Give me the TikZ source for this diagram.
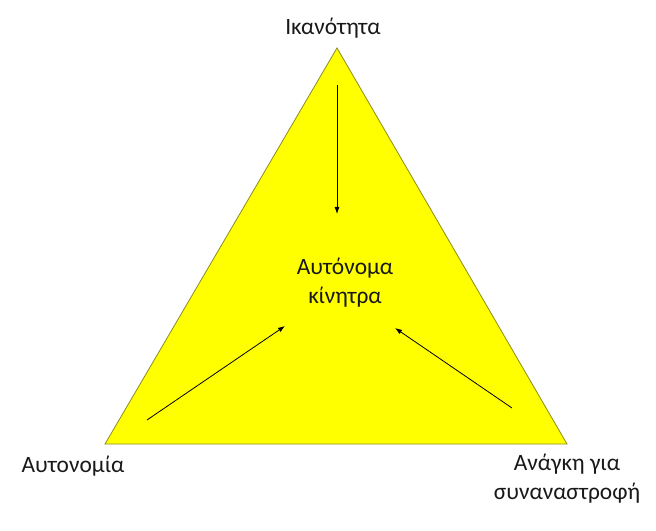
\documentclass[tikz,border=0pt]{standalone}
\usepackage{fontspec}
\setmainfont{Carlito}
\usetikzlibrary{arrows.meta}
\definecolor{triyellow}{RGB}{255,255,0}
\definecolor{triedge}{RGB}{140,140,30}
\begin{document}
\begin{tikzpicture}[x=1bp,y=-1bp,
  lbl/.style={font=\fontsize{23.5}{29}\selectfont, align=center, inner sep=0pt, text=black!90},
  arr/.style={-{Latex[length=7bp,width=5bp]}, line width=0.8bp}]
\useasboundingbox (0,0) rectangle (656,531);
\fill[white] (0,0) rectangle (656,531);
\coordinate (top) at (337,48);
\coordinate (bl) at (105,444);
\coordinate (br) at (567,444);
\filldraw[fill=triyellow, draw=triedge, line width=0.8bp] (top) -- (bl) -- (br) -- cycle;
\node[lbl] (ik) at (333,28) {Ικανότητα};
\node[lbl] (auto) at (73,466) {Αυτονομία};
\node[lbl] (anag) at (567,479) {Ανάγκη για\\συναναστροφή};
\node[lbl] (kin) at (345,283) {Αυτόνομα\\κίνητρα};
\coordinate (a1s) at (337,85);
\coordinate (a1e) at (337,214);
\coordinate (a2s) at (147,420);
\coordinate (a2e) at (285,326);
\coordinate (a3s) at (512,408);
\coordinate (a3e) at (395,328);
\draw[arr] (a1s) -- (a1e);
\draw[arr] (a2s) -- (a2e);
\draw[arr] (a3s) -- (a3e);
\end{tikzpicture}
\end{document}
